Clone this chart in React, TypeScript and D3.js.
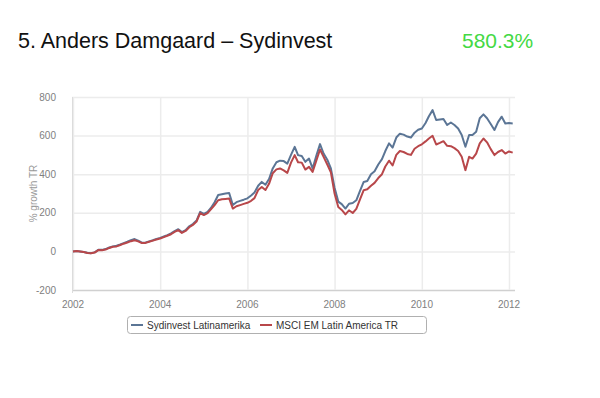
import React, { useRef, useEffect } from 'react';
import * as d3 from 'd3';

const title = '5. Anders Damgaard – Sydinvest';
const headline = '580.3%';
const seriesNames = ['Sydinvest Latinamerika', 'MSCI EM Latin America TR'];
const yTicks = [-200, 0, 200, 400, 600, 800];
const xTickYears = [2002, 2004, 2006, 2008, 2010, 2012];

// monthly values, Jan 2002 .. Feb 2012 (% growth TR)
const sydinvest = [
  0, 2, 0, -3, -7, -9, -5, 8, 8, 12, 20, 26,
  29, 36, 43, 50, 58, 64, 56, 45, 46, 52, 58, 65,
  70, 77, 84, 93, 105, 115, 100, 110, 130, 142, 160, 205,
  195, 205, 225, 255, 292, 296, 300, 303, 240, 255, 262, 268,
  275, 290, 305, 340, 360, 345, 375, 430, 462, 470, 468, 455,
  500, 542, 499, 494, 464, 481, 430, 495, 556, 507, 475, 430,
  330, 258, 245, 222, 247, 251, 265, 313, 360, 365, 400, 415,
  450, 478, 520, 560, 538, 590, 610, 605, 595, 590, 615, 630,
  637, 665, 700, 732, 681, 684, 686, 655, 668, 655, 637, 603,
  542, 603, 603, 620, 690, 710, 690, 660, 629, 670, 698, 663,
  665, 663,
];
const msci = [
  0, 2, 0, -3, -8, -10, -6, 7, 6, 10, 18, 24,
  26, 33, 40, 46, 53, 58, 52, 43, 44, 50, 56, 62,
  67, 74, 81, 89, 101, 110, 96, 106, 125, 137, 155, 198,
  188, 198, 218, 240, 265, 270, 272, 274, 222, 234, 240, 246,
  252, 262, 276, 318, 334, 318, 350, 405, 425, 430, 420, 407,
  460, 499, 462, 460, 424, 438, 412, 470, 528, 490, 450, 410,
  300, 230, 215, 192, 213, 199, 220, 270, 317, 322, 340, 355,
  380, 400, 440, 470, 445, 500, 520, 515, 505, 500, 532, 545,
  555, 570, 585, 599, 554, 562, 571, 547, 545, 535, 520, 490,
  421, 490, 481, 507, 560, 585, 565, 530, 499, 515, 525, 507,
  518, 512,
];
const colors = ['#5b7595', '#b8474a'];

const App = () => {
  const svgRef = useRef(null);

  useEffect(() => {
    const width = 600;
    const height = 398;
    const svg = d3.select(svgRef.current);
    svg.selectAll('*').remove();
    svg.attr('width', width).attr('height', height);

    const font = 'Liberation Sans, Arial, sans-serif';
    const months = d3.timeMonth.range(new Date(2002, 0, 1), new Date(2012, 2, 1));

    const x = d3.scaleTime()
      .domain([new Date(2002, 0, 1), new Date(2012, 0, 1)])
      .range([73, 509]);
    const y = d3.scaleLinear().domain([-200, 800]).range([290, 97]);
    const left = 72;
    const right = 515;

    // title
    svg.append('text')
      .attr('x', 18).attr('y', 48)
      .style('font-family', font).style('font-size', '21.5px')
      .attr('fill', '#111')
      .text(title);
    svg.append('text')
      .attr('x', 462).attr('y', 48)
      .style('font-family', font).style('font-size', '21px')
      .attr('fill', '#44d944')
      .text(headline);

    // grid
    const g = svg.append('g');
    g.selectAll('.hgrid')
      .data(yTicks)
      .join('line')
      .attr('x1', left).attr('x2', right)
      .attr('y1', d => y(d) + 0.5).attr('y2', d => y(d) + 0.5)
      .attr('stroke', d => (d === -200 ? '#d0d0d0' : '#ececec'))
      .attr('stroke-width', 1.5);
    g.selectAll('.vgrid')
      .data(xTickYears)
      .join('line')
      .attr('x1', d => x(new Date(d, 0, 1)) + 0.5)
      .attr('x2', d => x(new Date(d, 0, 1)) + 0.5)
      .attr('y1', y(800)).attr('y2', y(-200))
      .attr('stroke', '#ececec')
      .attr('stroke-width', 1.5);
    g.append('line')
      .attr('x1', left + 0.5).attr('x2', left + 0.5)
      .attr('y1', y(800)).attr('y2', y(-200) + 3)
      .attr('stroke', '#dcdcdc');

    // y tick labels
    g.selectAll('.ylab')
      .data(yTicks)
      .join('text')
      .attr('x', 56)
      .attr('y', d => y(d) + 3.5)
      .attr('text-anchor', 'end')
      .style('font-family', font).style('font-size', '10px')
      .attr('fill', '#808080')
      .text(d => (d < 0 ? `-${Math.abs(d)}` : d));

    // x tick labels
    g.selectAll('.xlab')
      .data(xTickYears)
      .join('text')
      .attr('x', d => x(new Date(d, 0, 1)))
      .attr('y', 308)
      .attr('text-anchor', 'middle')
      .style('font-family', font).style('font-size', '10px')
      .attr('fill', '#808080')
      .text(d => d);

    // y axis title
    svg.append('text')
      .attr('transform', `translate(37,${y(300)}) rotate(-90)`)
      .attr('text-anchor', 'middle')
      .style('font-family', font).style('font-size', '10px')
      .attr('fill', '#999')
      .text('% growth TR');

    // lines
    const line = d3.line()
      .x((d, i) => x(months[i]))
      .y(d => y(d));
    [sydinvest, msci].forEach((s, i) => {
      svg.append('path')
        .datum(s)
        .attr('d', line)
        .attr('fill', 'none')
        .attr('stroke', colors[i])
        .attr('stroke-width', 2)
        .attr('stroke-linejoin', 'round');
    });

    // legend
    const lg = svg.append('g');
    lg.append('rect')
      .attr('x', 127.5).attr('y', 316.5)
      .attr('width', 299).attr('height', 17)
      .attr('rx', 3)
      .attr('fill', '#fff')
      .attr('stroke', '#b0b0b0');
    const itemX = [131, 260];
    seriesNames.forEach((name, i) => {
      lg.append('line')
        .attr('x1', itemX[i]).attr('x2', itemX[i] + 12)
        .attr('y1', 325).attr('y2', 325)
        .attr('stroke', colors[i]).attr('stroke-width', 2);
      lg.append('text')
        .attr('x', itemX[i] + 16).attr('y', 328.5)
        .style('font-family', font).style('font-size', '10px')
        .attr('fill', '#333')
        .text(name);
    });
  }, []);

  return (
    <svg ref={svgRef} style={{ position: 'absolute', left: 0, top: 0, background: '#fff' }} />
  );
};

export default App;
